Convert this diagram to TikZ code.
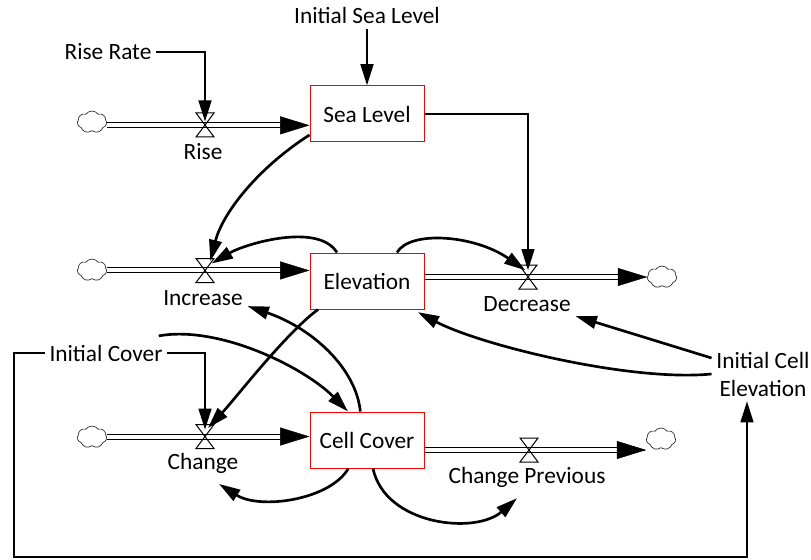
\documentclass[tikz,border=0pt]{standalone}
\usepackage{fontspec}
\setmainfont{Carlito}
\usetikzlibrary{arrows.meta,shapes.symbols,calc}
\begin{document}
\begin{tikzpicture}[x=0.75pt,y=-0.75pt,
  every node/.style={font=\fontsize{17.5pt}{21pt}\selectfont},
  lbl/.style={inner sep=3.5pt},
  stock/.style={draw=red, line width=0.75pt, minimum width=85.5pt, minimum height=42pt, inner sep=0pt},
  cloudn/.style={cloud, draw=black!85, cloud puffs=7, cloud puff arc=110, minimum width=22pt, minimum height=16.5pt, inner sep=0pt, line width=0.5pt},
  pipe/.style={line width=0.75pt, double distance=3pt, double=white, shorten >=12pt},
  pipetip/.style={line width=0.3pt, -{Triangle[length=22pt,width=13.5pt]}},
  inf/.style={line width=2pt, -{Triangle[length=16pt,width=9.5pt]}},
  valve/.pic={\draw[line width=0.75pt, line join=miter] (-6.75pt,9pt) -- (6.75pt,9pt) -- (-6.75pt,-9pt) -- (6.75pt,-9pt) -- cycle;}
]
\useasboundingbox (0,0) rectangle (811,560);

% stocks
\node[stock] (SL) at (367,114) {Sea Level};
\node[stock] (EL) at (367,281) {Elevation};
\node[stock] (CC) at (367,440) {Cell Cover};

% clouds
\node[cloudn] (cR) at (92,122) {};
\node[cloudn] (cI) at (92,270) {};
\node[cloudn] (cC) at (92,437) {};
\node[cloudn] (cD) at (662,277) {};
\node[cloudn] (cCP) at (661,439) {};

% valves
\coordinate (vRise) at (205,125);
\coordinate (vInc) at (205,270.5);
\coordinate (vChg) at (205,436.5);
\coordinate (vDec) at (528,277);
\coordinate (vCP) at (529,450);

% labels
\node[lbl,anchor=base] (ISL) at (367,24) {Initial Sea Level};
\node[lbl,anchor=base] (RR) at (108,60) {Rise Rate};
\node[lbl,anchor=base] (lRise) at (203,160) {Rise};
\node[lbl,anchor=base] (lInc) at (203,305) {Increase};
\node[lbl,anchor=base] (lChg) at (203,469) {Change};
\node[lbl,anchor=base] (lDec) at (527,311) {Decrease};
\node[lbl,anchor=base] (lCP) at (527,483) {Change Previous};
\node[lbl,anchor=base] (IC) at (106,361) {Initial Cover};
\node[lbl,align=center] (ICE) at (763,374) {Initial Cell\\Elevation};

% pipes
\coordinate (pR) at ([yshift=-8.5pt]SL.west);
\draw[pipe] (cR.east |- pR) -- (pR);
\draw[pipetip] ([xshift=-1pt]pR) -- (pR);

\coordinate (pI) at ([yshift=7.9pt]EL.west);
\draw[pipe] (cI.east |- pI) -- (pI);
\draw[pipetip] ([xshift=-1pt]pI) -- (pI);

\coordinate (pC) at ([yshift=2.6pt]CC.west);
\draw[pipe] (cC.east |- pC) -- (pC);
\draw[pipetip] ([xshift=-1pt]pC) -- (pC);

\coordinate (pD) at (cD.west);
\draw[pipe] (EL.east |- pD) -- (pD);
\draw[pipetip] ([xshift=-1pt]pD) -- (pD);

\coordinate (pCP) at ([yshift=-8.25pt]cCP.west);
\draw[pipe] (CC.east |- pCP) -- (pCP);
\draw[pipetip] ([xshift=-1pt]pCP) -- (pCP);

\pic at (vRise) {valve};
\pic at (vInc) {valve};
\pic at (vChg) {valve};
\pic at (vDec) {valve};
\pic at (vCP) {valve};

% influences
\draw[inf] (ISL.south) -- (SL.north);
\draw[inf] (RR.east) -| ([yshift=2.5pt]vRise);
\draw[inf] (SL.east) -| ([yshift=5pt]vDec);
\draw[inf] (SL.200) .. controls (255,170) and (222,215) .. ([xshift=4pt,yshift=7pt]vInc);
\draw[inf] ([xshift=-22.5pt]EL.north) .. controls (318,222) and (245,244) .. ([xshift=5pt,yshift=5.3pt]vInc);
\draw[inf] ([xshift=22.5pt]EL.north) .. controls (410,230) and (475,235) .. ([xshift=-2pt,yshift=5pt]vDec);
\draw[inf] ([xshift=-36.75pt]EL.south) .. controls (286,333) and (235,399) .. ([xshift=2.25pt,yshift=6.4pt]vChg);
\draw[inf] (IC.east) -| ([yshift=5pt]vChg);
\coordinate (lb) at (14,557);
\draw[inf] (IC.west) -| (lb) -| ([xshift=-12pt]ICE.south);
\draw[inf] ([xshift=-6.5pt,yshift=3pt]IC.north east) .. controls (220,325) and (305,368) .. ([xshift=-14.25pt]CC.north);
\draw[inf] ([xshift=-5pt]CC.north) .. controls (356,368) and (312,328) .. ([yshift=3pt]lInc.south east);
\draw[inf] ([xshift=-14pt]CC.south) .. controls (330,500) and (260,510) .. ([xshift=12pt,yshift=-4.5pt]lChg.south);
\draw[inf] ([xshift=4.5pt]CC.south) .. controls (385,525) and (475,535) .. ([xshift=-7.5pt,yshift=-4.7pt]lCP.south);
\draw[inf] ([yshift=12pt]ICE.west) -- (lDec.south east);
\draw[inf] (ICE.west) .. controls (630,382) and (480,345) .. ([xshift=-5pt,yshift=-2pt]EL.south east);
\end{tikzpicture}
\end{document}
